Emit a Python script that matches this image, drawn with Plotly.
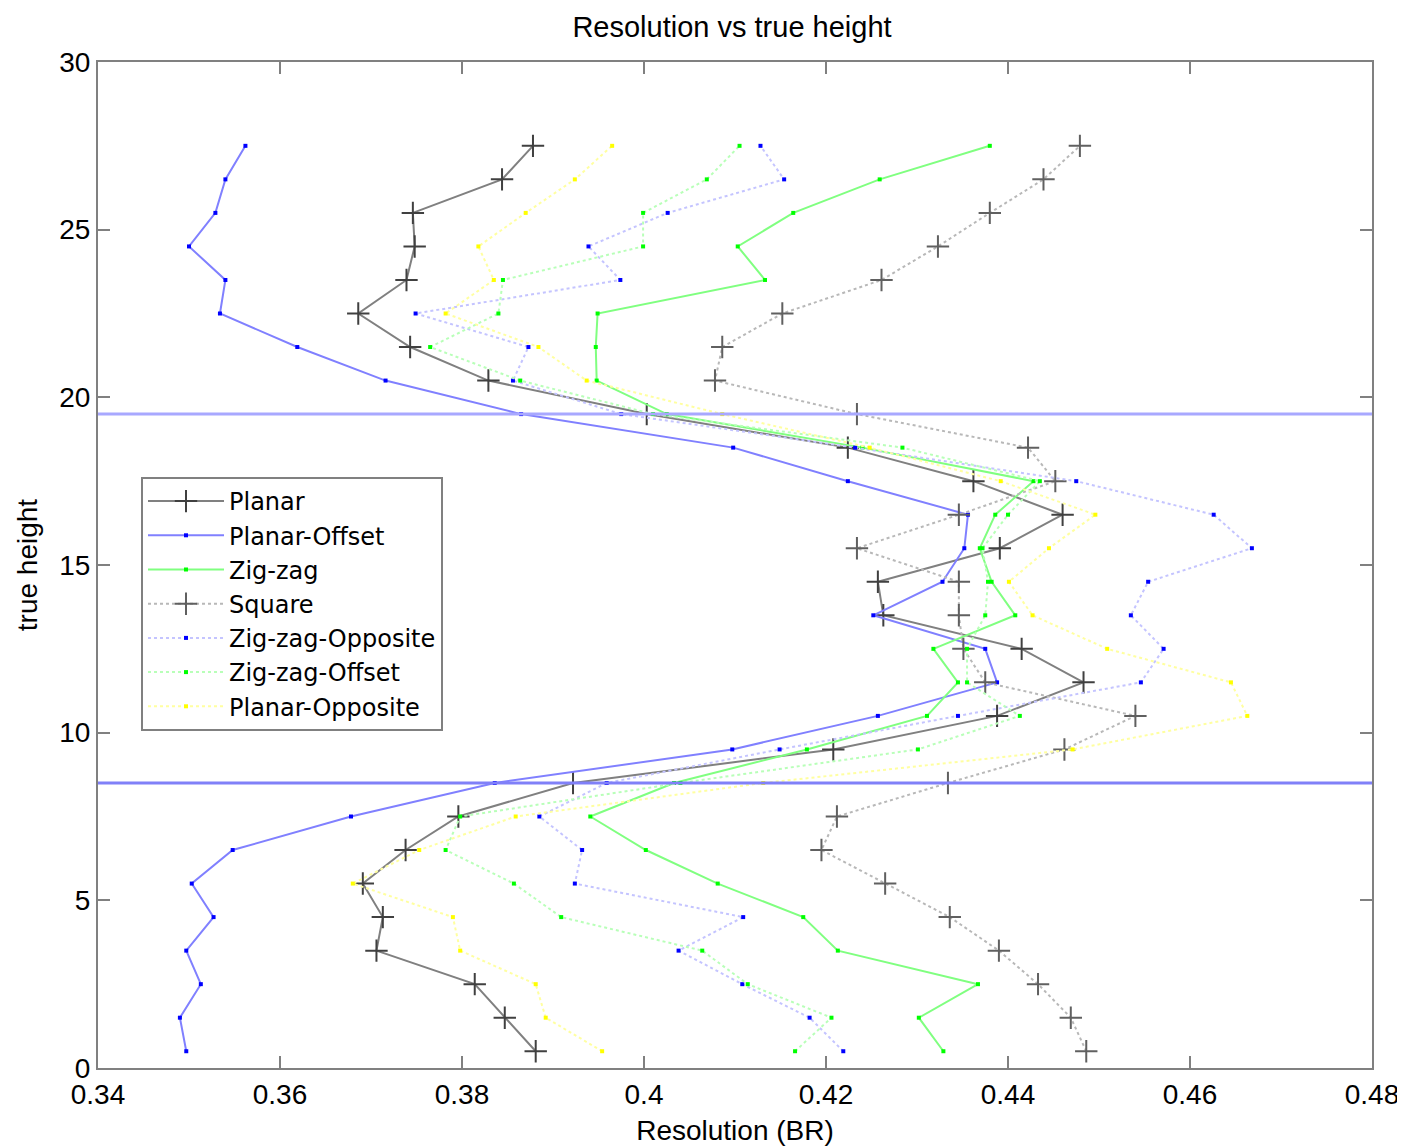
import plotly.graph_objects as go

heights = [0.5 + i for i in range(28)]

planar = [0.3881, 0.3847, 0.3814, 0.3706, 0.3713, 0.3691, 0.3738, 0.3796, 0.3922, 0.4208,
          0.4388, 0.4483, 0.4415, 0.4263, 0.4257, 0.4391, 0.4460, 0.4362, 0.4224, 0.4003,
          0.3829, 0.3743, 0.3686, 0.3739, 0.3748, 0.3746, 0.3844, 0.3878]
planar_offset = [0.3497, 0.3490, 0.3513, 0.3497, 0.3527, 0.3503, 0.3548, 0.3678, 0.3836, 0.4097,
                 0.4257, 0.4388, 0.4375, 0.4252, 0.4328, 0.4352, 0.4356, 0.4224, 0.4098, 0.3865,
                 0.3716, 0.3619, 0.3534, 0.3540, 0.3500, 0.3529, 0.3540, 0.3562]
zigzag = [0.4329, 0.4302, 0.4367, 0.4213, 0.4175, 0.4081, 0.4002, 0.3941, 0.4033, 0.4179,
          0.4311, 0.4345, 0.4318, 0.4408, 0.4382, 0.4369, 0.4386, 0.4428, 0.4240, 0.4025,
          0.3948, 0.3947, 0.3949, 0.4133, 0.4103, 0.4164, 0.4259, 0.4380]
square = [0.4486, 0.4469, 0.4433, 0.4390, 0.4336, 0.4265, 0.4195, 0.4212, 0.4334, 0.4462,
          0.4540, 0.4375, 0.4351, 0.4346, 0.4346, 0.4234, 0.4346, 0.4452, 0.4422, 0.4234,
          0.4078, 0.4086, 0.4152, 0.4261, 0.4323, 0.4380, 0.4439, 0.4479]
zigzag_opposite = [0.4219, 0.4182, 0.4108, 0.4038, 0.4109, 0.3924, 0.3932, 0.3885, 0.3959, 0.4149,
                   0.4345, 0.4546, 0.4571, 0.4535, 0.4554, 0.4668, 0.4626, 0.4475, 0.4232, 0.3975,
                   0.3856, 0.3873, 0.3749, 0.3974, 0.3939, 0.4026, 0.4154, 0.4128]
zigzag_offset = [0.4166, 0.4206, 0.4114, 0.4064, 0.3909, 0.3857, 0.3782, 0.3798, 0.4040, 0.4301,
                 0.4413, 0.4355, 0.4355, 0.4375, 0.4378, 0.4372, 0.4400, 0.4435, 0.4284, 0.4010,
                 0.3864, 0.3765, 0.3840, 0.3845, 0.3999, 0.3999, 0.4069, 0.4105]
planar_opposite = [0.3954, 0.3892, 0.3881, 0.3798, 0.3790, 0.3680, 0.3753, 0.3859, 0.4131, 0.4471,
                   0.4663, 0.4645, 0.4509, 0.4427, 0.4401, 0.4445, 0.4496, 0.4392, 0.4248, 0.4086,
                   0.3937, 0.3884, 0.3782, 0.3835, 0.3818, 0.3870, 0.3924, 0.3965]

boundaries = [8.5, 19.5]
x_ticks = [0.34, 0.36, 0.38, 0.40, 0.42, 0.44, 0.46, 0.48]
x_tick_labels = ["0.34", "0.36", "0.38", "0.4", "0.42", "0.44", "0.46", "0.48"]
y_ticks = [0, 5, 10, 15, 20, 25, 30]

FONT = "Liberation Sans, Arial, sans-serif"
LEGEND_FONT = "DejaVu Sans, Liberation Sans, sans-serif"

# page body adds an 8px margin, so the figure is 8px smaller than the window
W, H = 1397, 1138

series = [
    ("Planar", planar, "#808080", "solid", "cross-thin", "#404040", 16),
    ("Planar-Offset", planar_offset, "#8080ff", "solid", "square", "#0000ff", 4),
    ("Zig-zag", zigzag, "#80ff80", "solid", "square", "#00ff00", 4),
    ("Square", square, "#b8b8b8", "dot", "cross-thin", "#606060", 16),
    ("Zig-zag-Opposite", zigzag_opposite, "#c4c4ff", "dot", "square", "#0000ff", 4),
    ("Zig-zag-Offset", zigzag_offset, "#b8ffb8", "dot", "square", "#00ff00", 4),
    ("Planar-Opposite", planar_opposite, "#ffffa0", "dot", "square", "#ffff00", 4),
]

fig = go.Figure()
for name, xs, lc, dash, sym, mc, ms in series:
    if sym == "cross-thin":
        marker = dict(symbol=sym, size=ms, line=dict(color=mc, width=2), color=mc)
    else:
        marker = dict(symbol=sym, size=ms, color=mc, line=dict(width=0))
    fig.add_trace(go.Scatter(
        x=xs, y=heights, mode="lines+markers", name=name,
        line=dict(color=lc, width=2, dash=dash), marker=marker,
    ))

boundary_colors = ["#8080f8", "#a8a8ff"]
for b, c in zip(boundaries, boundary_colors):
    fig.add_shape(type="line", xref="paper", x0=0, x1=1, yref="y", y0=b, y1=b,
                  line=dict(color=c, width=3), layer="above")

axis_common = dict(
    showgrid=False, zeroline=False, showline=True, linecolor="#808080", linewidth=2,
    mirror="ticks", ticks="inside", ticklen=12, tickwidth=2, tickcolor="#808080",
    tickfont=dict(family=FONT, size=28, color="black"), automargin=False,
)

fig.update_layout(
    width=W, height=H,
    paper_bgcolor="white", plot_bgcolor="white",
    margin=dict(l=90, r=33, t=54, b=78),
    title=dict(text="Resolution vs true height", x=724 / W, xanchor="center",
               y=1 - 19 / H, yanchor="middle", yref="container",
               font=dict(family=FONT, size=29, color="black")),
    xaxis=dict(range=[0.34, 0.48], tickvals=x_ticks, ticktext=x_tick_labels,
               title=dict(text="Resolution (BR)", font=dict(family=FONT, size=28, color="black"),
                          standoff=12),
               **axis_common),
    yaxis=dict(range=[0, 30], tickvals=y_ticks,
               title=dict(text="true height", font=dict(family=FONT, size=28, color="black"),
                          standoff=13),
               **axis_common),
    legend=dict(x=(141 - 98) / 1274, y=(1068 - 477) / 1006, xanchor="left", yanchor="top",
                bgcolor="white", bordercolor="#808080", borderwidth=2,
                font=dict(family=LEGEND_FONT, size=24, color="black"),
                tracegroupgap=0, itemwidth=76),
    showlegend=True,
)

fig.write_html("out.html")
